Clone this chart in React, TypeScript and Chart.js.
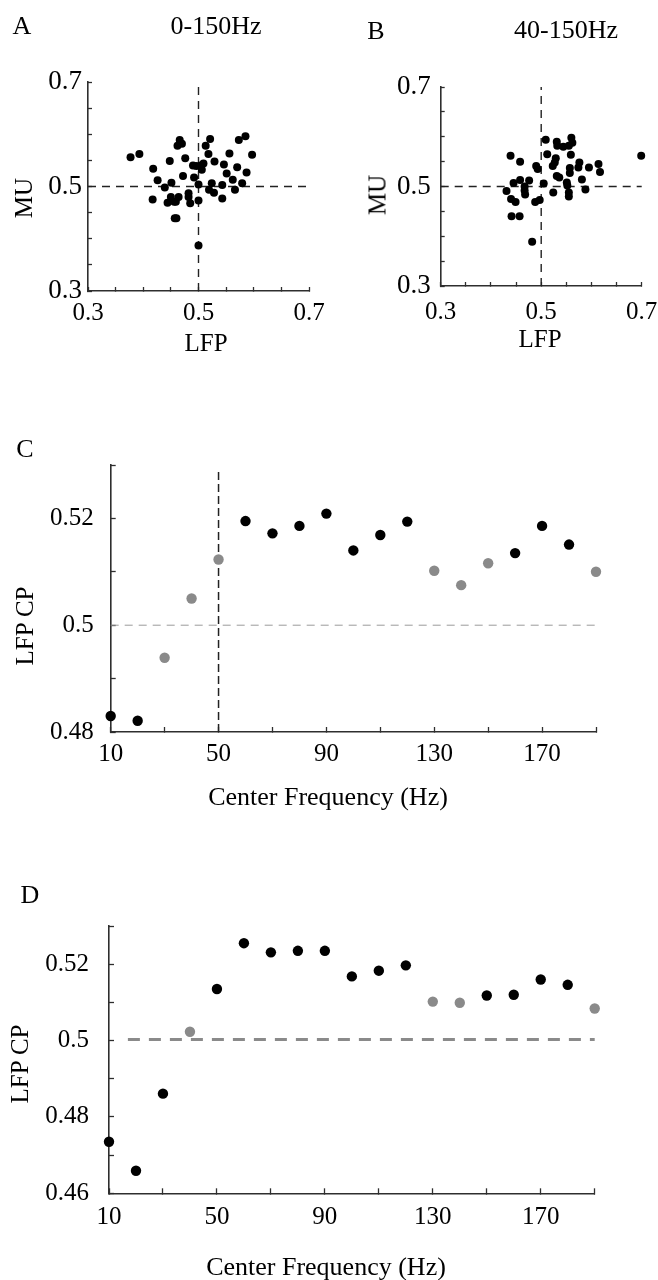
import React, { useEffect, useRef } from 'react';
import { Chart, registerables } from 'chart.js';

Chart.register(...registerables);

const FONT = "'Liberation Serif', 'Times New Roman', serif";

// ---------- Panel A (0-150Hz) ----------
const A_LFP = [0.377, 0.393, 0.418, 0.426, 0.417, 0.439, 0.444, 0.448, 0.451, 0.450, 0.456, 0.457, 0.460, 0.462, 0.466, 0.470, 0.464, 0.459, 0.472, 0.476, 0.482, 0.482, 0.485, 0.492, 0.490, 0.496, 0.504, 0.506, 0.500, 0.500, 0.500, 0.509, 0.513, 0.521, 0.518, 0.529, 0.524, 0.519, 0.528, 0.543, 0.543, 0.546, 0.551, 0.556, 0.562, 0.566, 0.570, 0.573, 0.579, 0.585, 0.587, 0.597];
const A_MU = [0.556, 0.562, 0.534, 0.512, 0.475, 0.498, 0.469, 0.549, 0.507, 0.480, 0.471, 0.439, 0.439, 0.578, 0.589, 0.582, 0.480, 0.471, 0.520, 0.554, 0.487, 0.480, 0.468, 0.517, 0.540, 0.539, 0.540, 0.532, 0.504, 0.473, 0.387, 0.544, 0.578, 0.591, 0.562, 0.548, 0.506, 0.494, 0.488, 0.503, 0.477, 0.542, 0.525, 0.563, 0.513, 0.494, 0.537, 0.589, 0.506, 0.596, 0.527, 0.561];

// ---------- Panel B (40-150Hz) ----------
const B_LFP = [0.439, 0.445, 0.431, 0.440, 0.449, 0.441, 0.457, 0.458, 0.458, 0.467, 0.467, 0.468, 0.476, 0.490, 0.493, 0.488, 0.497, 0.482, 0.505, 0.509, 0.512, 0.523, 0.527, 0.529, 0.524, 0.531, 0.536, 0.531, 0.532, 0.544, 0.551, 0.552, 0.555, 0.555, 0.559, 0.557, 0.557, 0.560, 0.562, 0.576, 0.574, 0.581, 0.588, 0.595, 0.614, 0.617, 0.699, 0.555];
const B_MU = [0.562, 0.507, 0.491, 0.475, 0.469, 0.440, 0.440, 0.550, 0.513, 0.500, 0.492, 0.484, 0.512, 0.541, 0.535, 0.469, 0.473, 0.389, 0.506, 0.594, 0.565, 0.541, 0.548, 0.557, 0.488, 0.521, 0.518, 0.590, 0.582, 0.580, 0.508, 0.502, 0.488, 0.480, 0.564, 0.527, 0.537, 0.598, 0.588, 0.548, 0.538, 0.514, 0.494, 0.538, 0.545, 0.529, 0.562, 0.582];

const SCATTER_MIN = 0.3;
const SCATTER_MAX = 0.7;
const SCATTER_STEP = 0.05;
const SCATTER_TICK_LABELS = ['0.3', '0.5', '0.7'];
const SCATTER_CENTER = 0.5;

// ---------- Panels C and D ----------
const FREQS = [10, 20, 30, 40, 50, 60, 70, 80, 90, 100, 110, 120, 130, 140, 150, 160, 170, 180, 190];
const FREQ_TICK_LABELS = ['10', '50', '90', '130', '170'];
const FREQ_MIN = 10;
const FREQ_MAX = 190;
const FREQ_STEP = 20;

const C_CP = [0.4830, 0.4821, 0.4939, 0.5050, 0.5123, 0.5195, 0.5172, 0.5186, 0.5209, 0.5140, 0.5169, 0.5194, 0.5102, 0.5075, 0.5116, 0.5135, 0.5186, 0.5151, 0.5100];
const C_SIG = [1, 1, 0, 0, 0, 1, 1, 1, 1, 1, 1, 1, 0, 0, 0, 1, 1, 1, 0];
const C_TICK_LABELS = ['0.48', '0.5', '0.52'];
const C_Y_MIN = 0.48;
const C_Y_MAX = 0.53;
const C_SPLIT_FREQ = 50;
const C_SPLIT_TOP = 0.5294;
const CHANCE = 0.5;

const D_CP = [0.4735, 0.4659, 0.4861, 0.5023, 0.5135, 0.5255, 0.5231, 0.5235, 0.5235, 0.5168, 0.5183, 0.5197, 0.5102, 0.5099, 0.5118, 0.5120, 0.5160, 0.5146, 0.5084];
const D_SIG = [1, 1, 1, 0, 1, 1, 1, 1, 1, 1, 1, 1, 0, 0, 1, 1, 1, 1, 0];
const D_TICK_LABELS = ['0.46', '0.48', '0.5', '0.52'];
const D_Y_MIN = 0.46;
const D_Y_MAX = 0.53;
const D_CHANCE_LINE = 0.5003;
const D_CHANCE_START = 17;

const BLACK = '#000000';
const GRAY = '#8a8a8a';
const AXIS = '#2e2e2e';

function labelCb(labels: string[]) {
  return (v: number) => {
    const hit = labels.find((l) => Math.abs(parseFloat(l) - v) < 1e-6);
    return hit !== undefined ? hit : '';
  };
}

type Area = { left: number; top: number; right: number; bottom: number };

function makeOptions(p: {
  w: number; h: number; area: Area;
  xMin: number; xMax: number; xStep: number; xLabels: string[];
  yMin: number; yMax: number; yStep: number; yLabels: string[];
  tickLen: number; xPad: number; yPad: number; xTickSize: number; yTickSize: number;
}) {
  return {
    responsive: false,
    maintainAspectRatio: false,
    animation: false as const,
    events: [] as any[],
    layout: { padding: { left: 0, top: p.area.top, right: p.w - p.area.right, bottom: 0 } },
    plugins: { legend: { display: false }, tooltip: { enabled: false }, title: { display: false } },
    scales: {
      x: {
        type: 'linear' as const,
        position: 'bottom' as const,
        min: p.xMin,
        max: p.xMax,
        ticks: {
          stepSize: p.xStep,
          autoSkip: false,
          maxRotation: 0,
          minRotation: 0,
          padding: p.xPad,
          color: '#000',
          font: { family: FONT, size: p.xTickSize },
          callback: labelCb(p.xLabels),
        },
        grid: { drawOnChartArea: false, drawTicks: true, tickLength: -p.tickLen, tickColor: AXIS, tickWidth: 1.3 },
        border: { display: true, color: AXIS, width: 1.6 },
        afterFit: (s: any) => {
          s.height = p.h - p.area.bottom;
          s.paddingLeft = 0;
          s.paddingRight = 0;
        },
      },
      y: {
        type: 'linear' as const,
        position: 'left' as const,
        min: p.yMin,
        max: p.yMax,
        ticks: {
          stepSize: p.yStep,
          autoSkip: false,
          padding: p.yPad,
          color: '#000',
          font: { family: FONT, size: p.yTickSize },
          callback: labelCb(p.yLabels),
        },
        grid: { drawOnChartArea: false, drawTicks: true, tickLength: -p.tickLen, tickColor: AXIS, tickWidth: 1.3 },
        border: { display: true, color: AXIS, width: 1.6 },
        afterFit: (s: any) => {
          s.width = p.area.left;
          s.paddingTop = 0;
          s.paddingBottom = 0;
        },
      },
    },
  };
}

function refLine(points: { x: number; y: number }[], color: string, width: number, dash: number[]) {
  return {
    data: points,
    showLine: true,
    borderColor: color,
    borderWidth: width,
    borderDash: dash,
    pointRadius: 0,
    fill: false,
    clip: false as const,
  };
}

function scatterConfig(xs: number[], ys: number[], w: number, h: number, area: Area, xPad: number, yPad: number) {
  return {
    type: 'scatter' as const,
    data: {
      datasets: [
        {
          data: xs.map((x, i) => ({ x, y: ys[i] })),
          backgroundColor: BLACK,
          borderWidth: 0,
          pointRadius: 4,
          clip: false as const,
        },
        refLine([{ x: SCATTER_MIN, y: SCATTER_CENTER }, { x: SCATTER_MAX, y: SCATTER_CENTER }], '#222', 1.4, [8, 6]),
        refLine([{ x: SCATTER_CENTER, y: SCATTER_MIN }, { x: SCATTER_CENTER, y: SCATTER_MAX }], '#222', 1.4, [8, 6]),
      ],
    },
    options: makeOptions({
      w, h, area,
      xMin: SCATTER_MIN, xMax: SCATTER_MAX, xStep: SCATTER_STEP, xLabels: SCATTER_TICK_LABELS,
      yMin: SCATTER_MIN, yMax: SCATTER_MAX, yStep: SCATTER_STEP, yLabels: SCATTER_TICK_LABELS,
      tickLen: 4, xPad, yPad, xTickSize: 25, yTickSize: 27,
    }),
  };
}

function configA() {
  return scatterConfig(A_LFP, A_MU, 330, 370, { left: 88, top: 82, right: 309, bottom: 291 }, 11, 10);
}

function configB() {
  return scatterConfig(B_LFP, B_MU, 328, 370, { left: 110.7, top: 87, right: 311.7, bottom: 286 }, 15, 14);
}

function configC() {
  const w = 658, h = 440;
  return {
    type: 'scatter' as const,
    data: {
      datasets: [
        {
          data: FREQS.map((f, i) => ({ x: f, y: C_CP[i] })),
          backgroundColor: C_SIG.map((s) => (s ? BLACK : GRAY)),
          borderWidth: 0,
          pointRadius: 5.2,
          clip: false as const,
        },
        refLine([{ x: FREQ_MIN, y: CHANCE }, { x: FREQ_MAX, y: CHANCE }], '#9a9a9a', 1, [8, 6]),
        refLine([{ x: C_SPLIT_FREQ, y: C_Y_MIN }, { x: C_SPLIT_FREQ, y: C_SPLIT_TOP }], '#222', 1.5, [8, 4]),
      ],
    },
    options: makeOptions({
      w, h, area: { left: 110.7, top: 65, right: 596, bottom: 332 },
      xMin: FREQ_MIN, xMax: FREQ_MAX, xStep: FREQ_STEP, xLabels: FREQ_TICK_LABELS,
      yMin: C_Y_MIN, yMax: C_Y_MAX, yStep: 0.01, yLabels: C_TICK_LABELS,
      tickLen: 5, xPad: 12, yPad: 22, xTickSize: 25, yTickSize: 25,
    }),
  };
}

function configD() {
  const w = 658, h = 400;
  return {
    type: 'scatter' as const,
    data: {
      datasets: [
        {
          data: FREQS.map((f, i) => ({ x: f, y: D_CP[i] })),
          backgroundColor: D_SIG.map((s) => (s ? BLACK : GRAY)),
          borderWidth: 0,
          pointRadius: 5.2,
          clip: false as const,
        },
        refLine([{ x: D_CHANCE_START, y: D_CHANCE_LINE }, { x: FREQ_MAX, y: D_CHANCE_LINE }], '#8a8a8a', 3, [12, 9]),
      ],
    },
    options: makeOptions({
      w, h, area: { left: 109, top: 46, right: 594.7, bottom: 313.3 },
      xMin: FREQ_MIN, xMax: FREQ_MAX, xStep: FREQ_STEP, xLabels: FREQ_TICK_LABELS,
      yMin: D_Y_MIN, yMax: D_Y_MAX, yStep: 0.01, yLabels: D_TICK_LABELS,
      tickLen: 5, xPad: 14, yPad: 25, xTickSize: 25, yTickSize: 25,
    }),
  };
}

function Panel(props: { left: number; top: number; width: number; height: number; config: () => any }) {
  const ref = useRef<HTMLCanvasElement>(null);
  useEffect(() => {
    const chart = new Chart(ref.current as HTMLCanvasElement, props.config());
    return () => chart.destroy();
  }, []);
  return (
    <div style={{ position: 'absolute', left: props.left, top: props.top, width: props.width, height: props.height }}>
      <canvas ref={ref} width={props.width} height={props.height} style={{ width: props.width, height: props.height, display: 'block' }} />
    </div>
  );
}

function Label(props: { x: number; y: number; text: string; size: number; rotate?: boolean }) {
  return (
    <div
      style={{
        position: 'absolute',
        left: props.x,
        top: props.y,
        transform: `translate(-50%, -50%)${props.rotate ? ' rotate(-90deg)' : ''}`,
        fontFamily: FONT,
        fontSize: props.size,
        lineHeight: 1,
        whiteSpace: 'nowrap',
        color: '#000',
      }}
    >
      {props.text}
    </div>
  );
}

export default function App() {
  return (
    <div style={{ position: 'absolute', left: 0, top: 0, width: 658, height: 1280, background: '#fff', overflow: 'hidden' }}>
      <Panel left={0} top={0} width={330} height={370} config={configA} />
      <Panel left={330} top={0} width={328} height={370} config={configB} />
      <Panel left={0} top={400} width={658} height={440} config={configC} />
      <Panel left={0} top={880} width={658} height={400} config={configD} />

      <Label x={22} y={26} text="A" size={26} />
      <Label x={216} y={26} text="0-150Hz" size={26} />
      <Label x={376} y={31} text="B" size={26} />
      <Label x={566} y={30} text="40-150Hz" size={26} />
      <Label x={23} y={198} text="MU" size={25} rotate />
      <Label x={376.5} y={195} text="MU" size={25} rotate />
      <Label x={206} y={342} text="LFP" size={25} />
      <Label x={540} y={338} text="LFP" size={25} />

      <Label x={25} y={449} text="C" size={26} />
      <Label x={24} y={626} text="LFP CP" size={25} rotate />
      <Label x={328} y={797} text="Center Frequency (Hz)" size={26} />

      <Label x={30} y={895} text="D" size={26} />
      <Label x={19} y={1064} text="LFP CP" size={25} rotate />
      <Label x={326} y={1267} text="Center Frequency (Hz)" size={26} />
    </div>
  );
}
